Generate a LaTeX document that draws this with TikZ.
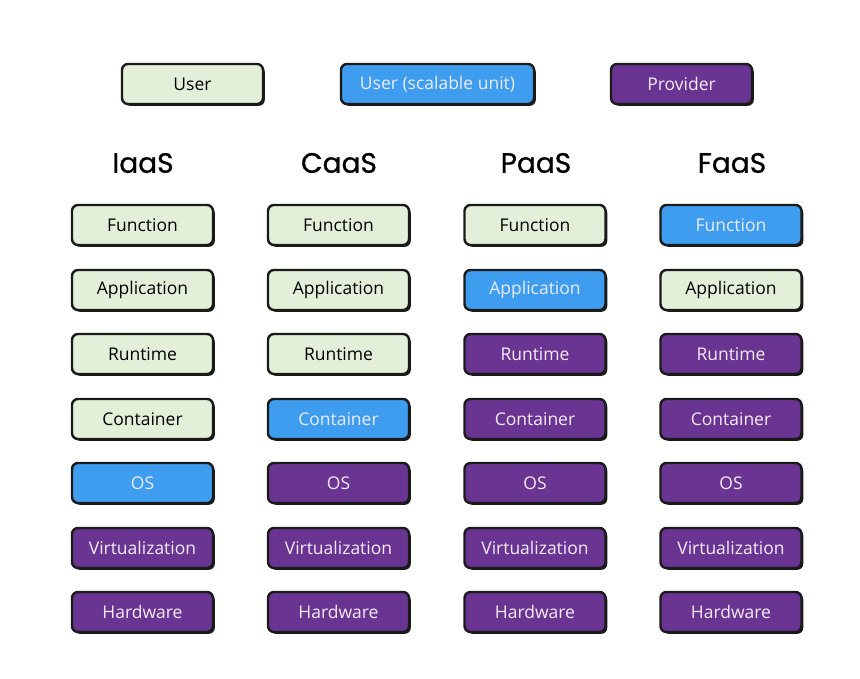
\documentclass[tikz,border=0pt]{standalone}
\usepackage{fontspec}
\setmainfont{Open Sans}
\newfontfamily\headfont[FakeBold=0.9]{Poppins}
\usetikzlibrary{shadows}
\definecolor{userfill}{HTML}{E2F0D9}
\definecolor{scalefill}{HTML}{3E9DEE}
\definecolor{provfill}{HTML}{6A3592}
\definecolor{edgecol}{HTML}{1A1A1A}
\begin{document}
\begin{tikzpicture}[x=1pt,y=-1pt,
  layer/.style={rounded corners=6pt, minimum width=141pt, minimum height=40pt,
    inner sep=0pt, draw=edgecol, line width=2.4pt, font=\fontsize{17.5}{20}\selectfont,
    drop shadow={shadow xshift=1.8pt, shadow yshift=-1.8pt, fill=edgecol, opacity=1}},
  user/.style={layer, fill=userfill, text=black},
  scalable/.style={layer, fill=scalefill, text=white!92!blue},
  provider/.style={layer, fill=provfill, text=white!92!violet},
  head/.style={font=\headfont\fontsize{28}{30}\selectfont, text=black}]
\useasboundingbox (0,0) rectangle (860,678);

% legend
\node[user] (legUser) at (192.5,84) {User};
\node[scalable, minimum width=193pt] (legScal) at (437.5,84) {User (scalable unit)};
\node[provider] (legProv) at (681.5,84) {Provider};

% column headers
\node[head] (hI) at (143,163) {IaaS};
\node[head] (hC) at (339,163) {CaaS};
\node[head] (hP) at (536,163) {PaaS};
\node[head] (hF) at (732,163) {FaaS};

% IaaS stack
\node[user]     (i1) at (142.5,225) {Function};
\node[user]     (i2) at (142.5,290) {Application};
\node[user]     (i3) at (142.5,354) {Runtime};
\node[user]     (i4) at (142.5,419) {Container};
\node[scalable] (i5) at (142.5,483) {OS};
\node[provider] (i6) at (142.5,548) {Virtualization};
\node[provider] (i7) at (142.5,612) {Hardware};

% CaaS stack
\node[user]     (c1) at (338.5,225) {Function};
\node[user]     (c2) at (338.5,290) {Application};
\node[user]     (c3) at (338.5,354) {Runtime};
\node[scalable] (c4) at (338.5,419) {Container};
\node[provider] (c5) at (338.5,483) {OS};
\node[provider] (c6) at (338.5,548) {Virtualization};
\node[provider] (c7) at (338.5,612) {Hardware};

% PaaS stack
\node[user]     (p1) at (535,225) {Function};
\node[scalable] (p2) at (535,290) {Application};
\node[provider] (p3) at (535,354) {Runtime};
\node[provider] (p4) at (535,419) {Container};
\node[provider] (p5) at (535,483) {OS};
\node[provider] (p6) at (535,548) {Virtualization};
\node[provider] (p7) at (535,612) {Hardware};

% FaaS stack
\node[scalable] (f1) at (731,225) {Function};
\node[user]     (f2) at (731,290) {Application};
\node[provider] (f3) at (731,354) {Runtime};
\node[provider] (f4) at (731,419) {Container};
\node[provider] (f5) at (731,483) {OS};
\node[provider] (f6) at (731,548) {Virtualization};
\node[provider] (f7) at (731,612) {Hardware};
\end{tikzpicture}
\end{document}
